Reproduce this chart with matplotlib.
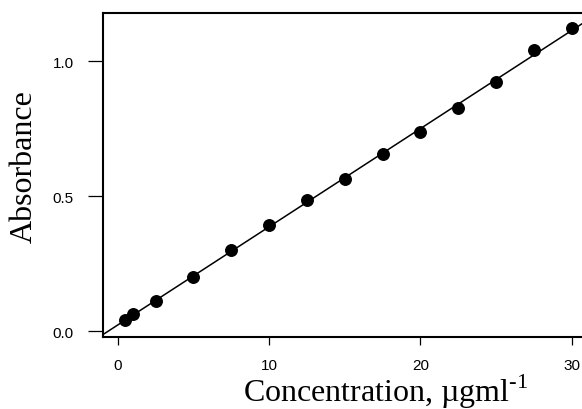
import numpy as np
import matplotlib
matplotlib.use("Agg")
import matplotlib.pyplot as plt

# calibration data
conc = [0.5, 1, 2.5, 5, 7.5, 10, 12.5, 15, 17.5, 20, 22.5, 25, 27.5, 30]
absorb = [0.041, 0.063, 0.110, 0.201, 0.301, 0.394, 0.484, 0.562,
          0.657, 0.736, 0.826, 0.923, 1.042, 1.122]
xticks = [0, 10, 20, 30]
yticks = [0.0, 0.5, 1.0]
ytick_labels = ["0.0", "0.5", "1.0"]

plt.rcParams['font.family'] = ['Liberation Sans', 'DejaVu Sans']
plt.rcParams['mathtext.fontset'] = 'custom'
plt.rcParams['mathtext.rm'] = 'Liberation Serif'

fig = plt.figure(figsize=(5.82, 4.10), dpi=100)
ax = fig.add_axes([0.1778, 0.1756, 0.83, 0.790])

# least squares line through the points
slope, icept = np.polyfit(conc, absorb, 1)
ax.axline((0, icept), slope=slope, color='black', lw=1.1, zorder=2)
ax.plot(conc, absorb, 'o', color='black', markersize=8.3, zorder=3)

ax.set_xlim(-0.94, 30.98)
ax.set_ylim(-0.022, 1.178)

ax.spines['right'].set_visible(False)
for s in ['left', 'top', 'bottom']:
    ax.spines[s].set_linewidth(1.5)

ax.set_xticks(xticks)
ax.set_yticks(yticks)
ax.set_yticklabels(ytick_labels)
ax.tick_params(axis='y', direction='out', length=10.8, width=0.9, pad=10.5,
               labelsize=11)
ax.tick_params(axis='x', direction='out', length=5.8, width=0.9, pad=9.0,
               labelsize=11)

fig.text(24 / 582, 1 - 167 / 410, "Absorbance", rotation=90, ha='center',
         va='center', family='Liberation Serif', fontsize=23)
fig.text(386 / 582, 1 - 402 / 410, r"Concentration, µgml$^{\text{-1}}$",
         ha='center', va='baseline', family='Liberation Serif', fontsize=23)

fig.savefig("out.png", dpi=100)
